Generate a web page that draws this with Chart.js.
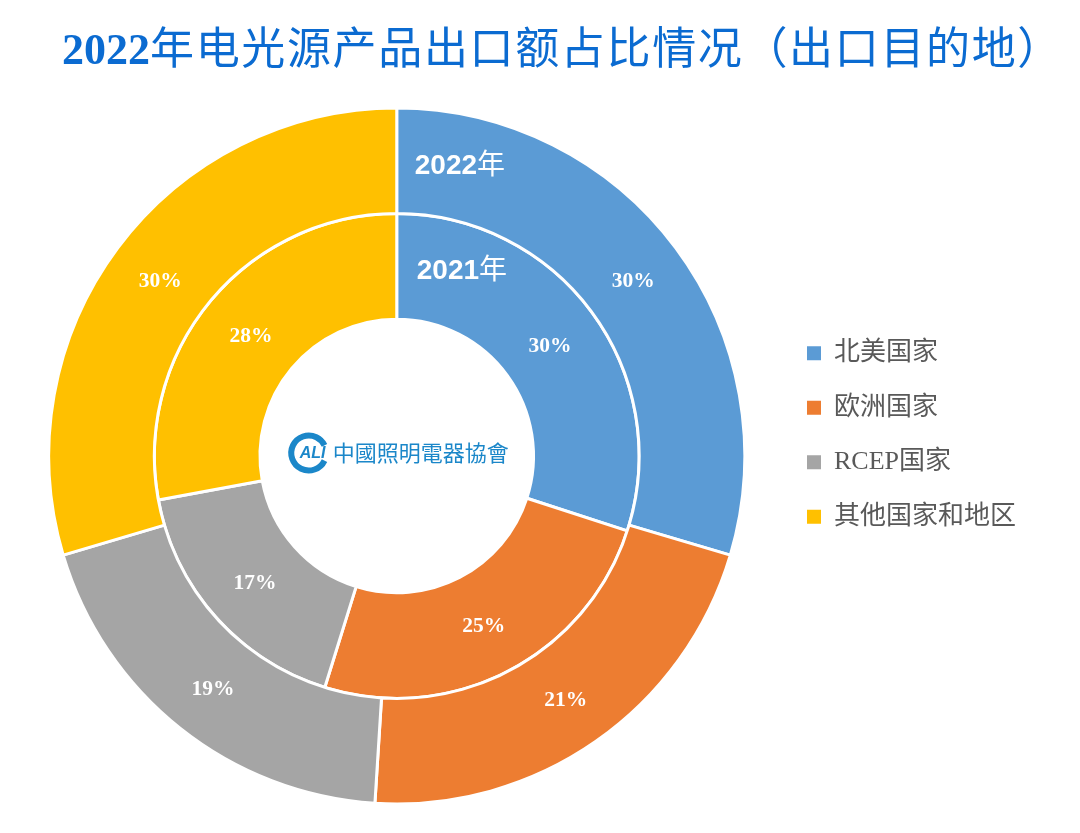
<!DOCTYPE html>
<html lang="zh">
<head>
<meta charset="utf-8">
<title>2022年电光源产品出口额占比情况</title>
<script src="https://cdn.jsdelivr.net/npm/chart.js@4/dist/chart.umd.min.js"></script>
<style>
    body { margin: 0; background: #fff; }
    #wrap { position: relative; width: 1080px; height: 833px; overflow: hidden; }
    #title {
        position: absolute; left: 62px; top: 21px; white-space: nowrap;
        font: 400 44px/58px "Liberation Serif", "Noto Sans CJK SC", serif;
        letter-spacing: 1.65px; color: #0b6bd1;
    }
    #title b { font-weight: 700; letter-spacing: 0; }
</style>
</head>
<body>
<div id="wrap">
    <div id="title"><b>2022</b>年电光源产品出口额占比情况（出口目的地）</div>
    <canvas id="myChart" width="1080" height="833"></canvas>
</div>
<script>
// Values
const categories = ["北美国家", "欧洲国家", "RCEP国家", "其他国家和地区"];
const colours = ["#5B9BD5", "#ED7D31", "#A5A5A5", "#FFC000"];
const values2022 = [29.6, 21.4, 19.4, 29.6];
const values2021 = [30, 24.8, 17.3, 27.9];
const yearNames = ["2022", "2021"];
const yearUnit = "年";
const logoText = "中國照明電器協會";

const serifFont = '"Liberation Serif", "Noto Sans CJK SC", serif';
const sansFont = '"Liberation Sans", "Noto Sans CJK SC", sans-serif';

const moveLegend = {
    id: "moveLegend",
    afterLayout(chart) {
        // the legend sits higher than the centre of the ring
        chart.legend.top -= 21;
        chart.legend.bottom -= 21;
    }
};

// bold digits, thin 年, as in the ring names of the original
const drawYear = (ctx, name, x, y) => {
    ctx.font = "700 28px " + sansFont;
    ctx.fillText(name, x, y);
    const w = ctx.measureText(name).width;
    ctx.font = "400 28px " + sansFont;
    ctx.fillText(yearUnit, x + w, y);
};

const ringText = {
    id: "ringText",
    afterDatasetsDraw(chart) {
        const ctx = chart.ctx;
        ctx.save();
        ctx.textAlign = "center";
        ctx.textBaseline = "middle";
        ctx.fillStyle = "#fff";

        // percent labels, in the middle of each slice
        ctx.font = "700 21.5px " + serifFont;
        chart.data.datasets.forEach((set, i) => {
            chart.getDatasetMeta(i).data.forEach((arc, j) => {
                const pos = arc.tooltipPosition();
                ctx.fillText(Math.round(set.data[j]) + "%", pos.x, pos.y + 2);
            });
        });

        const first = chart.getDatasetMeta(0).data[0];
        const cx = first.x;
        const cy = first.y;

        // ring names
        ctx.textAlign = "left";
        drawYear(ctx, yearNames[0], cx + 18, cy - 290);
        drawYear(ctx, yearNames[1], cx + 20, cy - 185);

        // association logo
        ctx.strokeStyle = "#1b87c9";
        ctx.fillStyle = "#1b87c9";
        ctx.lineWidth = 6;
        ctx.beginPath();
        ctx.arc(cx - 88, cy - 3, 17.5, 0.45, Math.PI * 2 - 0.45);
        ctx.stroke();
        ctx.font = 'italic 700 16px "Liberation Sans", sans-serif';
        ctx.fillText("ALI", cx - 97, cy - 2);
        ctx.font = '400 22px "Noto Sans CJK TC", sans-serif';
        ctx.fillText(logoText, cx - 64, cy - 3);
        ctx.restore();
    }
};

const myChart = new Chart(document.getElementById("myChart"), {
    type: "doughnut",
    data: {
        labels: categories,
        datasets: [
            { label: yearNames[0], data: values2022, backgroundColor: colours, borderColor: "#fff", borderWidth: 3 },
            { label: yearNames[1], data: values2021, backgroundColor: colours, borderColor: "#fff", borderWidth: 3 }
        ]
    },
    options: {
        responsive: false,
        animation: false,
        cutout: "39.3%",
        layout: { padding: { left: 15, right: 54, top: 106.5, bottom: 27.5 } },
        plugins: {
            tooltip: { enabled: false },
            legend: {
                position: "right",
                labels: {
                    boxWidth: 14,
                    boxHeight: 14,
                    padding: 28.5,
                    color: "#595959",
                    font: { size: 26, family: serifFont },
                    generateLabels: (chart) =>
                        Chart.overrides.doughnut.plugins.legend.labels.generateLabels(chart)
                            .map((item) => ({ ...item, lineWidth: 0 }))
                }
            }
        }
    },
    plugins: [moveLegend, ringText]
});
</script>
</body>
</html>
